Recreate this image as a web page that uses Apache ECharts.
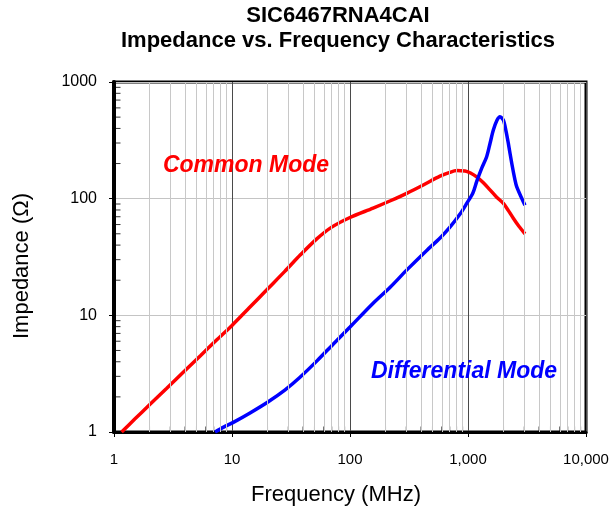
<!DOCTYPE html>
<html>
<head>
<meta charset="utf-8">
<script src="https://cdn.jsdelivr.net/npm/echarts@6/dist/echarts.min.js"></script>
<style>html,body{margin:0;padding:0;background:#fff}#c{width:613px;height:514px}</style>
</head>
<body>
<div id="c"></div>
<script>
// Frequency (MHz) and impedance (Ohm)
const cmFreq = [1.16, 1.5, 2.0, 2.8, 3.9, 5.4, 7.4, 10, 14, 20, 28, 38, 52, 70, 100, 157, 220, 302, 418, 579, 700, 802, 944, 1050, 1184, 1350, 1536, 1750, 1995, 2200, 2420, 2700, 3040];
const cmZ    = [1.0, 1.29, 1.71, 2.37, 3.28, 4.51, 6.15, 8.2, 11.6, 16.8, 23.8, 33, 45, 57, 69, 83, 96, 111, 131, 156, 168, 174, 173, 166, 154, 137, 119, 103, 91, 79, 68, 58, 50];
const dmFreq = [7.18, 8.5, 10.26, 14.1, 20, 28.2, 37.7, 52.5, 72.3, 100, 157, 220, 302, 447, 580, 703, 850, 975, 1100, 1184, 1300, 1439, 1540, 1640, 1760, 1867, 1995, 2100, 2197, 2350, 2503, 2590, 2800, 3040];
const dmZ    = [1.0, 1.1, 1.21, 1.45, 1.8, 2.3, 2.95, 4.07, 5.69, 7.94, 12.7, 17.5, 24.4, 36, 46, 57, 73, 91, 112, 140, 180, 229, 300, 387, 470, 504, 471, 380, 298, 200, 144, 126, 105, 88];
const xTicks = [1, 10, 100, 1000, 10000];
const yTicks = [1, 10, 100, 1000];
const titleLines = ['SIC6467RNA4CAI', 'Impedance vs. Frequency Characteristics'];
const xName = 'Frequency (MHz)';
const yName = 'Impedance (\u03A9)';
const cmLabel = 'Common Mode';
const dmLabel = 'Differential Mode';

// minor decade values (2..9 x 10^n)
const minorX = [], minorY = [];
for (let d = 1; d < 10000; d *= 10) for (let k = 2; k <= 9; k++) minorX.push(k * d);
for (let d = 1; d < 1000; d *= 10) for (let k = 2; k <= 9; k++) minorY.push(k * d);

const F = '"Liberation Sans", Arial, sans-serif';
const chart = echarts.init(document.getElementById('c'), null, {renderer: 'canvas'});
chart.setOption({
  animation: false,
  backgroundColor: '#fff',
  grid: {left: 114, right: 27, top: 82, bottom: 82, show: true, borderColor: '#000', borderWidth: 3, backgroundColor: 'transparent'},
  xAxis: {
    type: 'log', logBase: 10, min: 1, max: 10000,
    axisLine: {show: true, onZero: false, lineStyle: {color: '#000', width: 3}},
    axisTick: {show: true, length: 5, lineStyle: {color: '#000', width: 1}},
    axisLabel: {color: '#000', fontSize: 15, fontFamily: F, margin: 20, formatter: v => Number(v).toLocaleString('en-US')},
    splitLine: {show: true, lineStyle: {color: '#4a4a4a', width: 1}},
    minorTick: {show: false}, minorSplitLine: {show: false}
  },
  yAxis: {
    type: 'log', logBase: 10, min: 1, max: 1000,
    axisLine: {show: true, onZero: false, lineStyle: {color: '#000', width: 4}},
    axisTick: {show: true, length: 5, lineStyle: {color: '#000', width: 1}},
    axisLabel: {color: '#000', fontSize: 16, fontFamily: F, margin: 17, formatter: v => String(Number(v))},
    splitLine: {show: true, lineStyle: {color: '#c4c4c4', width: 1}},
    minorTick: {show: false}, minorSplitLine: {show: false}
  },
  series: [
    {
      type: 'line', data: [], z: 1, silent: true,
      markLine: {
        silent: true, symbol: 'none', label: {show: false}, animation: false,
        lineStyle: {color: '#c8c8c8', width: 1, type: 'solid'},
        data: minorX.map(v => ({xAxis: v}))
      }
    },
    {
      type: 'scatter', z: 4, silent: true, clip: false,
      symbol: 'rect', symbolSize: [5, 1], symbolOffset: [4, 0],
      itemStyle: {color: '#000'},
      data: minorY.map(v => [xTicks[0], v])
    },
    {
      type: 'scatter', z: 4, silent: true, clip: false,
      symbol: 'rect', symbolSize: [1, 5], symbolOffset: [0, -3],
      itemStyle: {color: '#000'},
      data: minorX.map(v => [v, yTicks[0]])
    },
    {
      name: cmLabel, type: 'line', z: 3, smooth: 0.3, showSymbol: false,
      lineStyle: {color: '#ff0000', width: 3.5}, itemStyle: {color: '#ff0000'},
      data: cmFreq.map((f, i) => [f, cmZ[i]])
    },
    {
      name: dmLabel, type: 'line', z: 3, smooth: 0.3, showSymbol: false,
      lineStyle: {color: '#0000ff', width: 3.5}, itemStyle: {color: '#0000ff'},
      data: dmFreq.map((f, i) => [f, dmZ[i]])
    }
  ],
  graphic: [
    {type: 'text', x: 338, y: 16, style: {text: titleLines[0], font: 'bold 22px ' + F, fill: '#000', textAlign: 'center', textVerticalAlign: 'middle'}},
    {type: 'text', x: 338, y: 41, style: {text: titleLines[1], font: 'bold 22px ' + F, fill: '#000', textAlign: 'center', textVerticalAlign: 'middle'}},
    {type: 'text', x: 336, y: 495, style: {text: xName, font: '22px ' + F, fill: '#000', textAlign: 'center', textVerticalAlign: 'middle'}},
    {type: 'text', x: 22, y: 266, rotation: Math.PI / 2, style: {text: yName, font: '22px ' + F, fill: '#000', textAlign: 'center', textVerticalAlign: 'middle'}},
    {type: 'text', x: 246, y: 166, z: 10, style: {text: cmLabel, font: 'italic bold 23px ' + F, fill: '#ff0000', textAlign: 'center', textVerticalAlign: 'middle'}},
    {type: 'text', x: 464, y: 372, z: 10, style: {text: dmLabel, font: 'italic bold 23px ' + F, fill: '#0000ff', textAlign: 'center', textVerticalAlign: 'middle'}}
  ]
});
</script>
</body>
</html>
